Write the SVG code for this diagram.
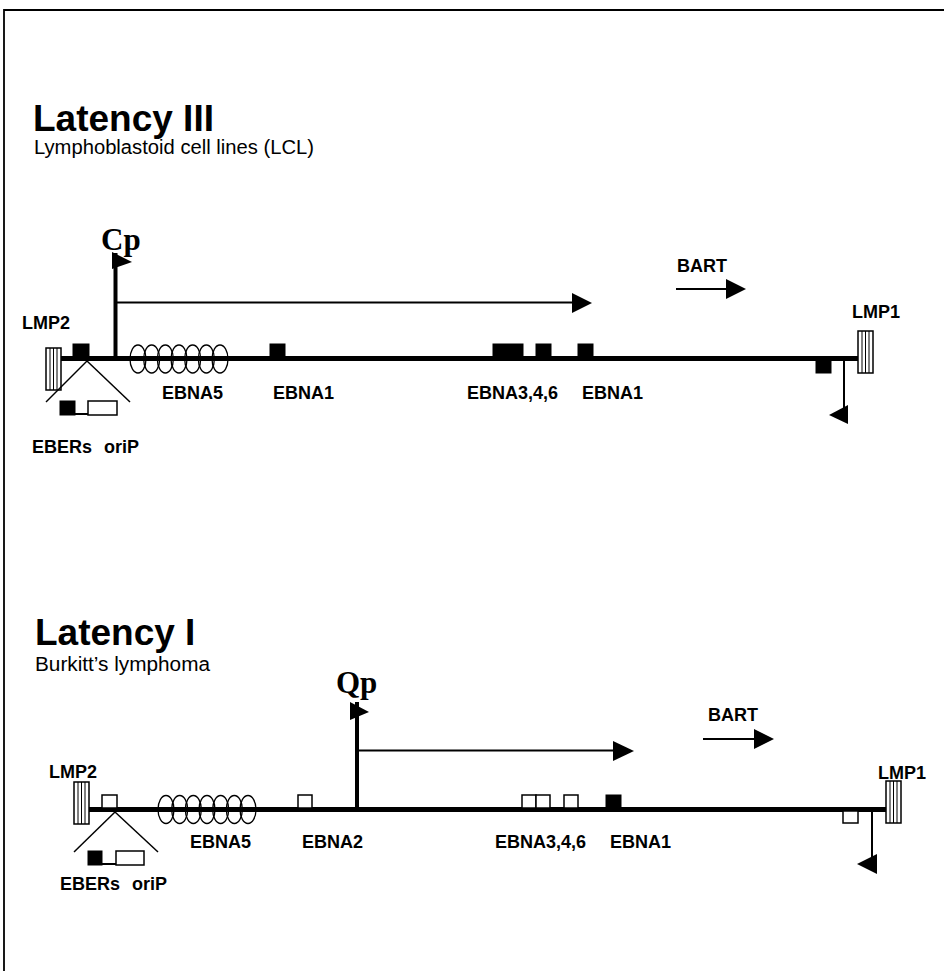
<svg xmlns="http://www.w3.org/2000/svg" width="944" height="971" viewBox="0 0 944 971">
<style>
.title{font-family:"Liberation Sans",Arial,sans-serif;font-weight:bold;font-size:37px;fill:#000}
.sub{font-family:"Liberation Sans",Arial,sans-serif;font-size:20px;fill:#000}
.lbl{font-family:"Liberation Sans",Arial,sans-serif;font-weight:bold;font-size:18px;fill:#000}
.prom{font-family:"Liberation Serif","Times New Roman",serif;font-weight:bold;font-size:31px;fill:#000}
.main{stroke:#000;stroke-width:5;fill:none}
.thin{stroke:#000;stroke-width:2;fill:none}
.tri{stroke:#000;stroke-width:1.5;fill:none}
.blk{fill:#000;stroke:#000;stroke-width:1}
.wht{fill:#fff;stroke:#000;stroke-width:1.5}
.rep{fill:none;stroke:#000;stroke-width:1.3}
.stripe{stroke:#000;stroke-width:1}
.head{fill:#000}
</style>
<defs>
<g id="lmp">
<rect x="0" y="0" width="15" height="42" fill="#fff" stroke="#000" stroke-width="1.5"/>
<line class="stripe" x1="4" y1="0" x2="4" y2="42"/>
<line class="stripe" x1="7.5" y1="0" x2="7.5" y2="42"/>
<line class="stripe" x1="11" y1="0" x2="11" y2="42"/>
</g>
<g id="repeats">
<ellipse cx="8" cy="0" rx="8" ry="14"/>
<ellipse cx="21.67" cy="0" rx="8" ry="14"/>
<ellipse cx="35.33" cy="0" rx="8" ry="14"/>
<ellipse cx="49" cy="0" rx="8" ry="14"/>
<ellipse cx="62.67" cy="0" rx="8" ry="14"/>
<ellipse cx="76.33" cy="0" rx="8" ry="14"/>
<ellipse cx="90" cy="0" rx="8" ry="14"/>
</g>
</defs>
<path d="M4,971 V10 H944" fill="none" stroke="#000" stroke-width="1.8"/>

<!-- Latency III -->
<g id="latency3-title">
<text class="title" x="33" y="131">Latency III</text>
<text class="sub" x="34" y="154" textLength="280" lengthAdjust="spacingAndGlyphs">Lymphoblastoid cell lines (LCL)</text>
</g>
<g id="l3-genome">
<line class="main" x1="60" y1="358.5" x2="858" y2="358.5"/>
</g>
<g id="l3-lmp2">
<use href="#lmp" x="46" y="348"/>
<text class="lbl" x="22" y="329">LMP2</text>
</g>
<g id="l3-eber">
<rect class="blk" x="73" y="344" width="16" height="13"/>
<line class="tri" x1="87" y1="361" x2="46" y2="402"/>
<line class="tri" x1="87" y1="361" x2="130" y2="402"/>
<rect class="blk" x="60" y="401" width="15" height="14"/>
<line class="thin" x1="75" y1="414" x2="88" y2="414" stroke-width="1.5"/>
<rect class="wht" x="88" y="401" width="29" height="14"/>
<text class="lbl" x="32" y="453" word-spacing="7">EBERs oriP</text>
</g>
<g id="l3-cp">
<line x1="115.5" y1="358" x2="115.5" y2="253" stroke="#000" stroke-width="4"/>
<polygon class="head" points="112,252 132,262 112,269"/>
<text class="prom" x="101" y="250">Cp</text>
</g>
<g id="l3-ebna5">
<g class="rep" transform="translate(130,359)"><use href="#repeats"/></g>
<text class="lbl" x="162" y="399">EBNA5</text>
</g>
<g id="l3-ebna1a">
<rect class="blk" x="270" y="344" width="15" height="13"/>
<text class="lbl" x="273" y="399">EBNA1</text>
</g>
<g id="l3-ebna346">
<rect class="blk" x="493" y="344" width="30" height="13"/>
<rect class="blk" x="536" y="344" width="15" height="13"/>
<text class="lbl" x="467" y="399">EBNA3,4,6</text>
</g>
<g id="l3-ebna1b">
<rect class="blk" x="578" y="344" width="15" height="13"/>
<text class="lbl" x="582" y="399">EBNA1</text>
</g>
<g id="l3-bart">
<text class="lbl" x="677" y="272">BART</text>
</g>
<g id="l3-lmp1">
<use href="#lmp" x="858" y="331"/>
<rect class="blk" x="816" y="360" width="15" height="13"/>
<text class="lbl" x="852" y="318">LMP1</text>
</g>

<!-- Latency I -->
<g id="latency1-title">
<text class="title" x="35" y="645">Latency I</text>
<text class="sub" x="35" y="671" textLength="175" lengthAdjust="spacingAndGlyphs">Burkitt’s lymphoma</text>
</g>
<g id="l1-genome">
<line class="main" x1="88" y1="809.5" x2="886" y2="809.5"/>
</g>
<g id="l1-lmp2">
<use href="#lmp" x="74" y="782"/>
<text class="lbl" x="49" y="778">LMP2</text>
</g>
<g id="l1-eber">
<rect class="wht" x="102" y="795" width="15" height="13"/>
<line class="tri" x1="115" y1="812" x2="74" y2="852"/>
<line class="tri" x1="115" y1="812" x2="158" y2="852"/>
<rect class="blk" x="88" y="851" width="14" height="14"/>
<line class="thin" x1="102" y1="864" x2="116" y2="864" stroke-width="1.5"/>
<rect class="wht" x="116" y="851" width="28" height="14"/>
<text class="lbl" x="60" y="890" word-spacing="7">EBERs oriP</text>
</g>
<g id="l1-qp">
<line x1="357" y1="809" x2="357" y2="702" stroke="#000" stroke-width="4"/>
<polygon class="head" points="350,702 369,712 350,720"/>
<text class="prom" x="336" y="693">Qp</text>
</g>
<g id="l1-ebna5">
<g class="rep" transform="translate(158,809.5)"><use href="#repeats"/></g>
<text class="lbl" x="190" y="848">EBNA5</text>
</g>
<g id="l1-ebna2">
<rect class="wht" x="298" y="795" width="14" height="13"/>
<text class="lbl" x="302" y="848">EBNA2</text>
</g>
<g id="l1-ebna346">
<rect class="wht" x="522" y="795" width="14" height="13"/>
<rect class="wht" x="536" y="795" width="14" height="13"/>
<rect class="wht" x="564" y="795" width="14" height="13"/>
<text class="lbl" x="495" y="848">EBNA3,4,6</text>
</g>
<g id="l1-ebna1">
<rect class="blk" x="606" y="795" width="15" height="13"/>
<text class="lbl" x="610" y="848">EBNA1</text>
</g>
<g id="l1-bart">
<text class="lbl" x="708" y="721">BART</text>
</g>
<g id="l1-lmp1">
<use href="#lmp" x="886" y="781"/>
<rect class="wht" x="843" y="811" width="15" height="12"/>
<text class="lbl" x="878" y="779">LMP1</text>
</g>

<g id="connectors">
<line class="thin" x1="117" y1="302.5" x2="576" y2="302.5"/>
<polygon class="head" points="572,293 592,303 572,313"/>
<line class="thin" x1="676" y1="289" x2="728" y2="289"/>
<polygon class="head" points="726,279 746,289 726,299"/>
<line class="thin" x1="844" y1="360" x2="844" y2="418"/>
<polygon class="head" points="829,415 848,405 848,424"/>

<line class="thin" x1="358" y1="750.5" x2="616" y2="750.5"/>
<polygon class="head" points="613,741 634,751 613,761"/>
<line class="thin" x1="703" y1="739" x2="756" y2="739"/>
<polygon class="head" points="754,729 774,739 754,749"/>
<line class="thin" x1="872" y1="811" x2="872" y2="866"/>
<polygon class="head" points="857,864 877,854 877,874"/>
</g>
</svg>
